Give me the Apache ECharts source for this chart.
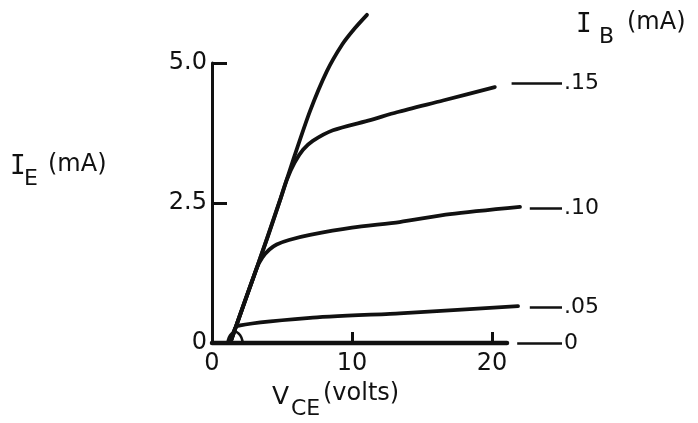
<!DOCTYPE html>
<html>
<head>
<meta charset="utf-8">
<script src="https://cdn.jsdelivr.net/npm/echarts@6/dist/echarts.min.js"></script>
<style>
  html, body { margin: 0; padding: 0; background: #fff; }
  #main { width: 698px; height: 423px; }
</style>
</head>
<body>
<div id="main"></div>
<script>
// V_CE (volts), I_E (mA) pairs
const envelope = [[1.3, 0], [2, 0.5], [3, 1.2], [4, 1.91], [4.86, 2.55], [5.8, 3.27], [7, 4.14], [8.2, 4.85], [9.3, 5.33], [10.2, 5.62], [11.07, 5.86]]
const ib015 = [[1.3, 0], [3, 1.2], [4.86, 2.55], [5.35, 2.92], [5.9, 3.22], [6.5, 3.45], [7.2, 3.61], [8.64, 3.8], [11.3, 3.98], [13.2, 4.12], [16.5, 4.33], [20.2, 4.57]]
const ib010 = [[1.3, 0], [3.2, 1.34], [3.6, 1.53], [4.1, 1.67], [4.62, 1.76], [5.5, 1.84], [7, 1.93], [10, 2.06], [13.4, 2.16], [17, 2.3], [22, 2.43]]
const ib005 = [[1.3, 0], [1.76, 0.3], [7, 0.45], [13.4, 0.53], [21.86, 0.66]]
const ib000 = [[0, 0], [21.07, 0]]
const arc = [[1.1, 0], [1.2, 0.1], [1.4, 0.17], [1.65, 0.2], [1.9, 0.17], [2.1, 0.1], [2.2, 0]]

// labels at the right end of each curve
const ibLabels = ['.15', '.10', '.05', '0']
const ibLevels = [4.64, 2.41, 0.64, 0]
const dashFrom = [21.4, 22.7, 22.7, 21.8]

const xTicks = [0, 10, 20]
const yTicks = [0, 2.5, 5]
const yTickLabels = ['0', '2.5', '5.0']

const ink = '#111'
const font = 'DejaVu Sans'

let myChart = echarts.init(document.getElementById('main'))

function curve (data, idx, width, smooth) {
    let s = {
        type: 'line',
        data: data,
        smooth: smooth == null ? 0.25 : smooth,
        showSymbol: false,
        symbol: 'none',
        clip: false,
        silent: true,
        lineStyle: {color: ink, width: width || 3.8, cap: 'round', join: 'round'}
    }
    if (idx != null) {
        s.markLine = {
            silent: true,
            symbol: 'none',
            animation: false,
            lineStyle: {color: ink, width: 2.5, type: 'solid'},
            label: {
                show: true,
                position: 'end',
                distance: 2,
                color: ink,
                fontFamily: font,
                fontSize: 22,
                formatter: ibLabels[idx]
            },
            data: [[{coord: [dashFrom[idx], ibLevels[idx]]}, {coord: [25, ibLevels[idx]]}]]
        }
    }
    return s
}

let option = {
    animation: false,
    backgroundColor: '#fff',
    grid: {left: 212, right: 136, top: 63, bottom: 80},
    xAxis: {
        type: 'value',
        min: 0,
        max: 25,
        splitLine: {show: false},
        axisLine: {show: false},
        axisTick: {show: true, inside: true, length: 11, customValues: [10, 20], lineStyle: {color: ink, width: 3}},
        axisLabel: {customValues: xTicks, color: ink, fontFamily: font, fontSize: 24, margin: 9}
    },
    yAxis: {
        type: 'value',
        min: 0,
        max: 5,
        interval: 2.5,
        splitLine: {show: false},
        axisLine: {show: true, lineStyle: {color: ink, width: 3}},
        axisTick: {show: true, inside: true, length: 15, customValues: [2.5, 5], lineStyle: {color: ink, width: 3}},
        axisLabel: {
            customValues: yTicks,
            color: ink, fontFamily: font, fontSize: 24, margin: 5,
            formatter: v => yTickLabels[yTicks.indexOf(v)]
        }
    },
    series: [
        curve(envelope),
        curve(ib015, 0),
        curve(ib010, 1),
        curve(ib005, 2, 3.8, 0.15),
        curve(ib000, 3, 4.5, false),
        curve(arc, null, 2.5, 0.4)
    ],
    graphic: [
        // I_E (mA)
        {type: 'text', left: 10, top: 154, style: {text: 'I', font: '26px "DejaVu Sans Mono"', fill: ink}},
        {type: 'text', left: 24, top: 168, style: {text: 'E', font: '22px "DejaVu Sans"', fill: ink}},
        {type: 'text', left: 48, top: 153, style: {text: '(mA)', font: '24px "DejaVu Sans"', fill: ink}},
        // I_B (mA)
        {type: 'text', left: 576, top: 12, style: {text: 'I', font: '26px "DejaVu Sans Mono"', fill: ink}},
        {type: 'text', left: 599, top: 26, style: {text: 'B', font: '22px "DejaVu Sans"', fill: ink}},
        {type: 'text', left: 627, top: 11, style: {text: '(mA)', font: '24px "DejaVu Sans"', fill: ink}},
        // V_CE (volts)
        {type: 'text', left: 272, top: 385, style: {text: 'V', font: '25px "DejaVu Sans"', fill: ink}},
        {type: 'text', left: 291, top: 398, style: {text: 'CE', font: '22px "DejaVu Sans"', fill: ink}},
        {type: 'text', left: 323, top: 382, style: {text: '(volts)', font: '24px "DejaVu Sans"', fill: ink}}
    ]
}
myChart.setOption(option)
</script>
</body>
</html>
